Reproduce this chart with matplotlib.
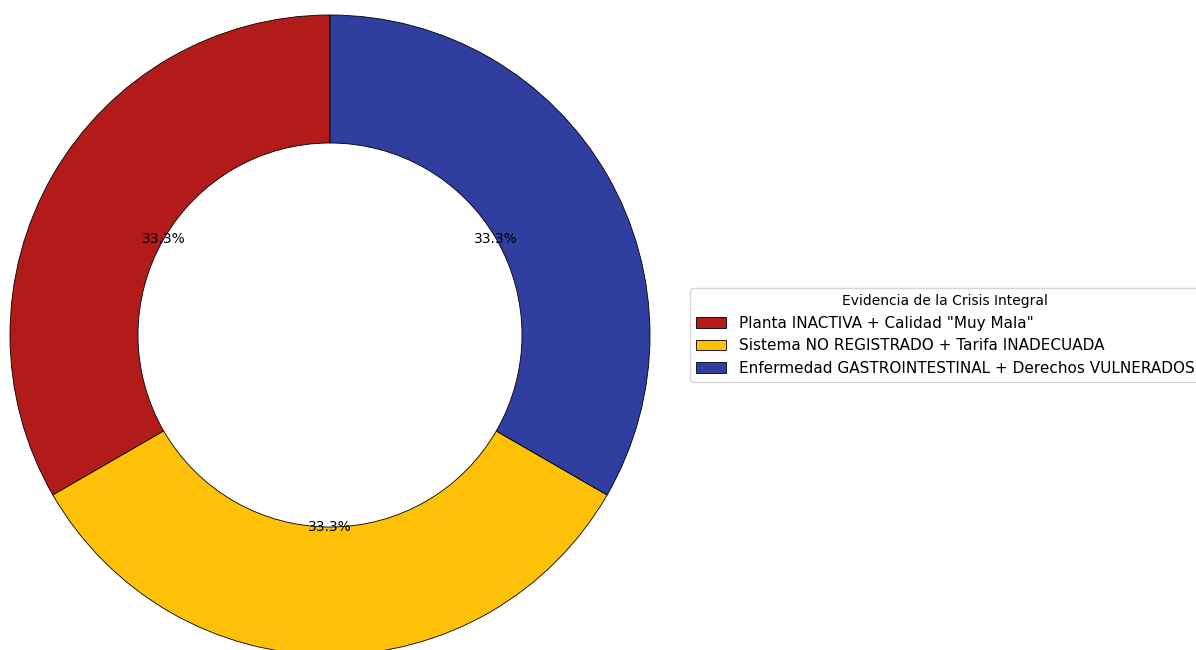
import numpy as np
import matplotlib.pyplot as plt

# Data
labels = ['Planta INACTIVA + Calidad "Muy Mala"',
          'Sistema NO REGISTRADO + Tarifa INADECUADA',
          'Enfermedad GASTROINTESTINAL + Derechos VULNERADOS']
values = [1, 1, 1]
colors = ['#B31B1B', '#FFC107', '#303F9F']

W, H = 1196, 650
fig = plt.figure(figsize=(W / 100, H / 100), dpi=100)

# donut centred at (330, 315) px from bottom-left, radius 320 px
cx, cy, r = 330, 315, 320
ax = fig.add_axes([(cx - r) / W, (cy - r) / H, 2 * r / W, 2 * r / H])

wedges, texts, autotexts = ax.pie(values, colors=colors, startangle=90,
                                  autopct='%1.1f%%', pctdistance=0.6,
                                  wedgeprops=dict(width=0.4, edgecolor='black', linewidth=0.6),
                                  textprops=dict(fontsize=10))
ax.set_xlim(-1, 1)
ax.set_ylim(-1, 1)
ax.set_aspect('equal')

fig.legend(wedges, labels, title='Evidencia de la Crisis Integral',
           loc='center left', bbox_to_anchor=(682 / W, 315 / H),
           fontsize=11, title_fontsize=10)

fig.savefig('out.png', dpi=100)
